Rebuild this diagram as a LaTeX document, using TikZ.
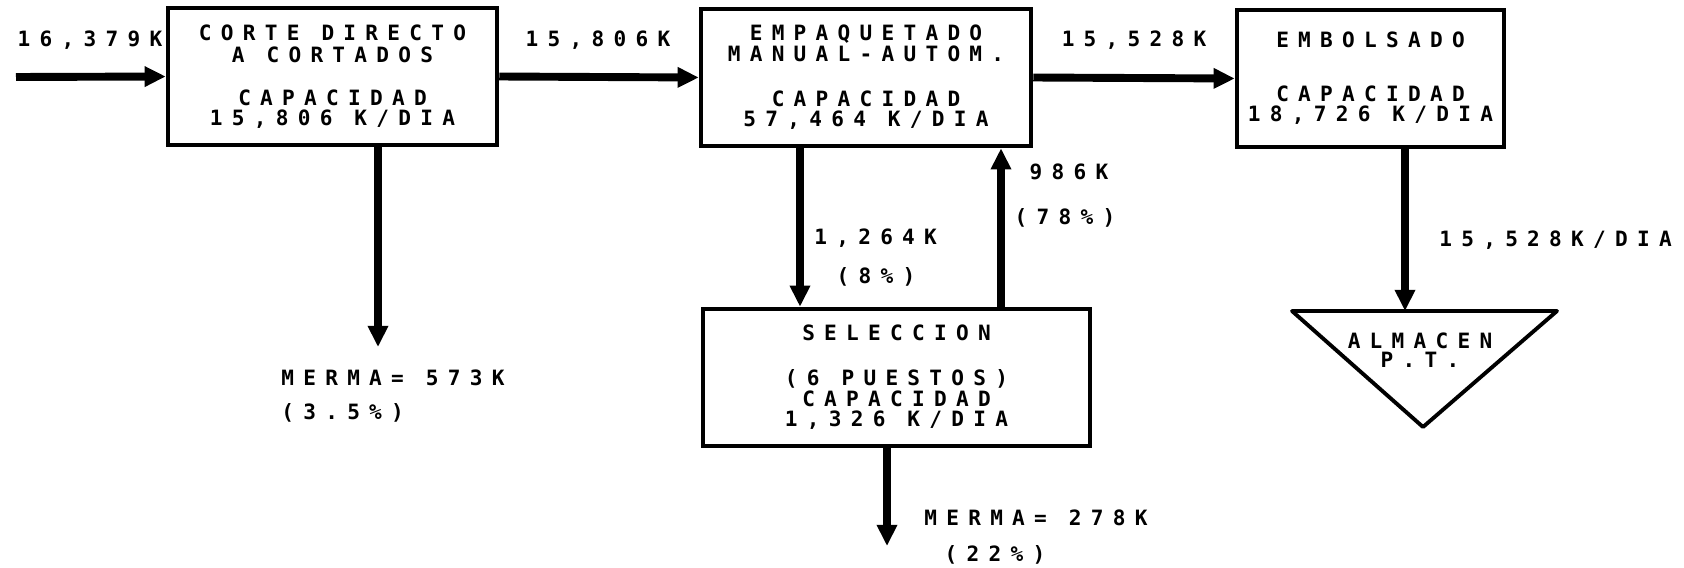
\documentclass[tikz,border=0pt]{standalone}
\usepackage{fontspec}
\newfontfamily\plotter{DejaVu Sans Mono}[LetterSpace=44]
\usetikzlibrary{arrows.meta, positioning, calc}

\tikzset{
  proc/.style={draw, line width=2.6pt, align=center, inner sep=0pt, minimum height=2.74cm},
  flow/.style={line width=4.5pt, -{Triangle[length=12pt,width=11pt]}},
  lbl/.style={inner sep=0pt, align=center},
}

\begin{document}
\begin{tikzpicture}[x=0.02cm, y=-0.02cm, font=\plotter\bfseries\fontsize{12}{12.5}\selectfont]
  \useasboundingbox (0,0) rectangle (1684,568);

  % process boxes
  \node[proc, minimum width=6.58cm] (corte) at (332.5,76.5)
    {CORTE DIRECTO\\A CORTADOS\\[12pt]CAPACIDAD\\[-1pt]15,806 K/DIA};
  \node[proc, minimum width=6.60cm] (empaq) at (866,77.5)
    {EMPAQUETADO\\[-1pt]MANUAL-AUTOM.\\[13.5pt]CAPACIDAD\\[-1pt]57,464 K/DIA};
  \node[proc, minimum width=5.34cm] (embols) at (1370.5,78.5)
    {EMBOLSADO\\[18pt]CAPACIDAD\\[-1pt]18,726 K/DIA};
  \node[proc, minimum width=7.74cm] (selec) at (896.5,377.5)
    {SELECCION\\[13pt](6 PUESTOS)\\[-0.5pt]CAPACIDAD\\[-1pt]1,326 K/DIA};

  % almacen
  \coordinate (almtop) at (1405,311);
  \draw[line width=2.2pt, line join=round] (1292,311) -- (1557,311) -- (1423,427) -- cycle;
  \node[lbl] (almtxt) at (1420,350) {ALMACEN\\[-2pt]P.T.};

  % flows
  \coordinate (entra) at (16,77);
  \coordinate (merma1) at (378,347);
  \coordinate (baja) at (800,0);
  \coordinate (sube) at (1001,0);
  \coordinate (merma2) at (887,546);
  \draw[flow] (entra) -- (corte.west);
  \draw[flow] (corte.east) -- (empaq.west);
  \draw[flow] (empaq.east) -- (embols.west);
  \draw[flow] (merma1 |- corte.south) -- (merma1);
  \draw[flow] (baja |- empaq.south) -- (baja |- selec.north);
  \draw[flow] (sube |- selec.north) -- (sube |- empaq.south);
  \draw[flow] (merma2 |- selec.south) -- (merma2);
  \draw[flow] (almtop |- embols.south) -- (almtop);

  % quantities
  \node[lbl] (q1) at (90,40) {16,379K};
  \node[lbl] (q2) at (598,40) {15,806K};
  \node[lbl] (q3) at (1134,40) {15,528K};
  \node[lbl, anchor=west] (m1a) at (281,378) {MERMA= 573K};
  \node[lbl, anchor=west] (m1b) at (281,413) {(3.5\%)};
  \node[lbl, anchor=west] (r1a) at (814,238) {1,264K};
  \node[lbl] (r1b) at (876,277) {(8\%)};
  \node[lbl] (r2a) at (1069,172) {986K};
  \node[lbl] (r2b) at (1065,218) {(78\%)};
  \node[lbl, anchor=west] (m2a) at (924,518) {MERMA= 278K};
  \node[lbl] (m2b) at (995,555) {(22\%)};
  \node[lbl, anchor=west] (pt) at (1439,240) {15,528K/DIA};
\end{tikzpicture}
\end{document}
